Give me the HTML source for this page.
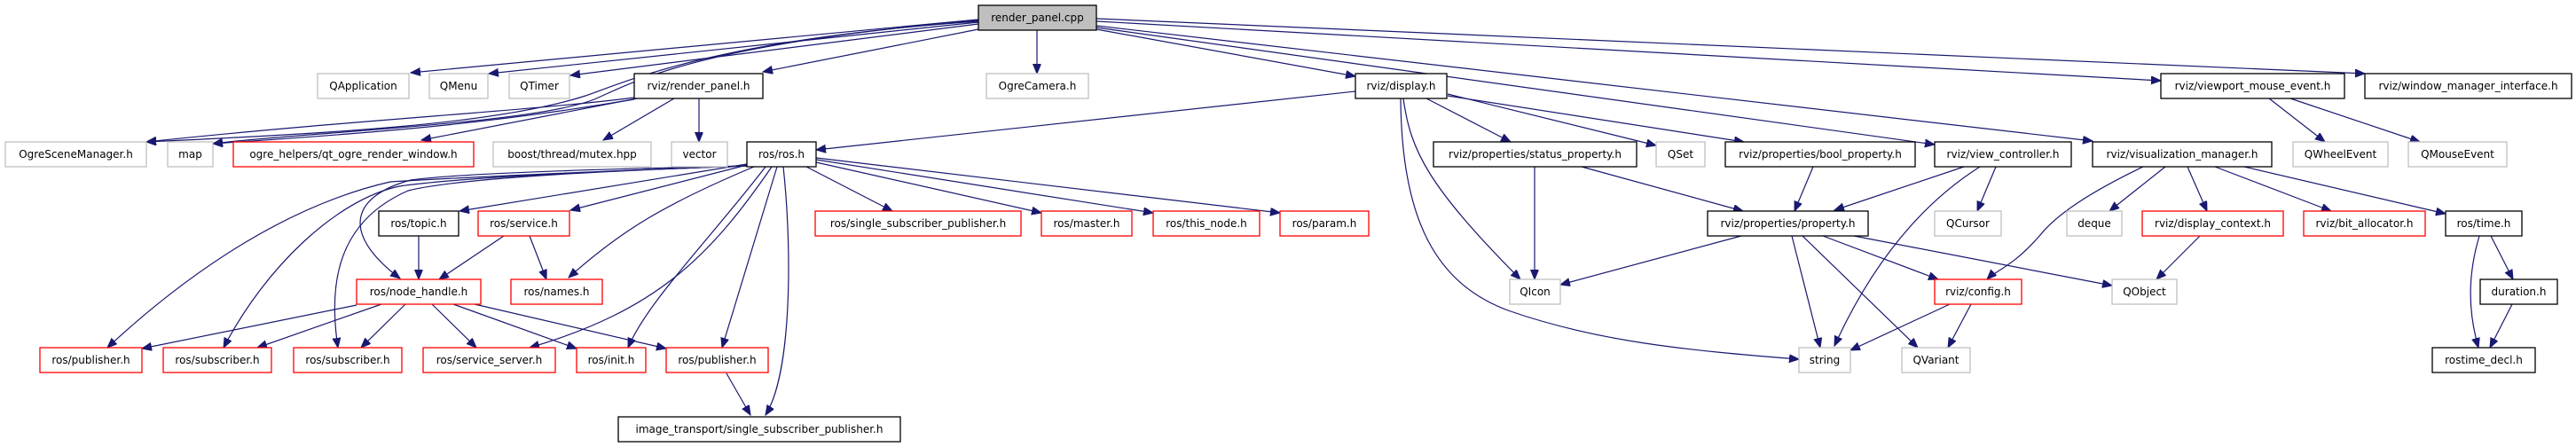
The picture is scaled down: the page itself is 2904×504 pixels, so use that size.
<!DOCTYPE html>
<html><head><meta charset="utf-8"><style>
html,body{margin:0;padding:0;background:#fff;}
svg{display:block;}
text{font-family:"DejaVu Sans","Liberation Sans",sans-serif;font-size:12px;text-anchor:middle;fill:#000;}
.e{fill:none;stroke:#191970;stroke-width:1.2;marker-end:url(#a);}
.k{fill:#fff;stroke:#000;stroke-width:1.3;}
.r{fill:#fff;stroke:#ff0000;stroke-width:1.3;}
.g{fill:#fff;stroke:#bfbfbf;stroke-width:1.3;}
</style></head><body>
<svg width="2904" height="504" viewBox="0 0 2904 504" xmlns="http://www.w3.org/2000/svg">
<defs><marker id="a" markerUnits="userSpaceOnUse" markerWidth="12" markerHeight="10" refX="11" refY="4.5" orient="auto"><path d="M0,0 L11,4.5 L0,9 z" fill="#191970" stroke="#191970"/></marker></defs>

<!-- edges from render_panel.cpp -->
<path class="e" d="M1103,22 L463,82"/>
<path class="e" d="M1103,25 L551,83"/>
<path class="e" d="M1103,27 L643,85"/>
<path class="e" d="M1103,33 L860,81"/>
<path class="e" d="M1103,24 C800,45 700,95 660,108 C560,140 380,150 165,160"/>
<path class="e" d="M1103,23 C780,50 710,95 670,112 C600,140 330,150 240,162"/>
<path class="e" d="M1169,34 L1169,83"/>
<path class="e" d="M1236,33 L1528,86"/>
<path class="e" d="M1236,31 L2181,163"/>
<path class="e" d="M1236,29 L2359,159"/>
<path class="e" d="M1236,24 L2436,91"/>
<path class="e" d="M1236,21 L2666,83"/>
<!-- render_panel.h -->
<path class="e" d="M715,110 C600,125 400,135 165,160"/>
<path class="e" d="M715,112 C550,140 420,150 240,162"/>
<path class="e" d="M718,111 L475,158"/>
<path class="e" d="M760,111 L680,158"/>
<path class="e" d="M788,111 L788,160"/>
<!-- display.h -->
<path class="e" d="M1528,103 L920,169"/>
<path class="e" d="M1608,111 L1703,160"/>
<path class="e" d="M1632,106 L1867,164"/>
<path class="e" d="M1632,108 L1966,160"/>
<path class="e" d="M1582,111 C1590,170 1610,210 1714,315"/>
<path class="e" d="M1579,111 C1580,250 1620,320 1700,350 C1800,385 1900,395 2028,405"/>
<!-- ros/ros.h -->
<path class="e" d="M909,188 L1006,238"/>
<path class="e" d="M920,183 L1174,240"/>
<path class="e" d="M920,180 L1300,240"/>
<path class="e" d="M920,178 L1443,240"/>
<path class="e" d="M876,188 L814,392"/>
<path class="e" d="M883,188 C893,280 893,420 863,468"/>
<path class="e" d="M863,188 C800,270 730,340 708,392"/>
<path class="e" d="M870,188 C800,290 740,350 597,392"/>
<path class="e" d="M850,188 C750,230 700,260 641,313"/>
<path class="e" d="M842,186 L643,237"/>
<path class="e" d="M842,185 L518,238"/>
<path class="e" d="M842,187 C700,190 520,195 463,203 C400,220 380,260 451,314"/>
<path class="e" d="M842,187 C700,192 520,200 460,215 C380,250 370,320 381,392"/>
<path class="e" d="M842,187 C700,192 520,200 450,210 C380,225 300,300 252,392"/>
<path class="e" d="M842,187 C700,192 520,200 440,205 C330,230 220,300 121,392"/>
<!-- topic / service / node_handle -->
<path class="e" d="M472,266 L472,315"/>
<path class="e" d="M568,266 L495,315"/>
<path class="e" d="M597,266 L616,315"/>
<path class="e" d="M402,344 L160,393"/>
<path class="e" d="M430,343 L290,392"/>
<path class="e" d="M457,343 L407,392"/>
<path class="e" d="M487,343 L537,392"/>
<path class="e" d="M511,343 L650,393"/>
<path class="e" d="M535,343 L751,393"/>
<path class="e" d="M819,421 L846,468"/>
<!-- properties -->
<path class="e" d="M1730,188 L1730,315"/>
<path class="e" d="M1783,188 L1965,238"/>
<path class="e" d="M2044,188 L2023,238"/>
<path class="e" d="M2214,188 L2068,237"/>
<path class="e" d="M2232,188 C2150,240 2100,320 2068,390"/>
<path class="e" d="M2250,188 L2229,238"/>
<path class="e" d="M1963,266 L1759,321"/>
<path class="e" d="M2020,266 L2052,392"/>
<path class="e" d="M2032,266 L2162,392"/>
<path class="e" d="M2055,266 L2185,315"/>
<path class="e" d="M2090,266 L2381,322"/>
<path class="e" d="M2198,343 L2086,395"/>
<path class="e" d="M2222,343 L2196,392"/>
<!-- visualization manager -->
<path class="e" d="M2416,188 C2360,215 2320,240 2300,265 C2270,300 2250,305 2240,315"/>
<path class="e" d="M2441,188 L2378,238"/>
<path class="e" d="M2466,188 L2488,238"/>
<path class="e" d="M2497,188 L2628,238"/>
<path class="e" d="M2530,188 L2757,241"/>
<path class="e" d="M2480,266 L2431,315"/>
<path class="e" d="M2558,111 L2621,160"/>
<path class="e" d="M2582,111 L2728,160"/>
<path class="e" d="M2808,266 L2833,315"/>
<path class="e" d="M2795,266 C2782,310 2782,350 2794,392"/>
<path class="e" d="M2832,343 L2807,392"/>

<!-- nodes -->
<rect x="1103" y="6" width="133" height="28" fill="#bfbfbf" stroke="#000" stroke-width="1.3"/><text x="1169.5" y="24">render_panel.cpp</text>

<rect class="g" x="358" y="83" width="103" height="28"/><text x="409.5" y="101">QApplication</text>
<rect class="g" x="484" y="83" width="66" height="28"/><text x="517" y="101">QMenu</text>
<rect class="g" x="574" y="83" width="68" height="28"/><text x="608" y="101">QTimer</text>
<rect class="k" x="715" y="83" width="145" height="28"/><text x="787.5" y="101">rviz/render_panel.h</text>
<rect class="g" x="1112" y="83" width="115" height="28"/><text x="1169.5" y="101">OgreCamera.h</text>
<rect class="k" x="1528" y="83" width="103" height="28"/><text x="1579.5" y="101">rviz/display.h</text>
<rect class="k" x="2436" y="83" width="207" height="28"/><text x="2539.5" y="101">rviz/viewport_mouse_event.h</text>
<rect class="k" x="2666" y="83" width="233" height="28"/><text x="2782.5" y="101">rviz/window_manager_interface.h</text>

<rect class="g" x="6" y="160" width="159" height="28"/><text x="85.5" y="178">OgreSceneManager.h</text>
<rect class="g" x="189" y="160" width="51" height="28"/><text x="214.5" y="178">map</text>
<rect class="r" x="263" y="160" width="271" height="28"/><text x="398.5" y="178">ogre_helpers/qt_ogre_render_window.h</text>
<rect class="g" x="556" y="160" width="178" height="28"/><text x="645" y="178">boost/thread/mutex.hpp</text>
<rect class="g" x="757" y="160" width="63" height="28"/><text x="788.5" y="178">vector</text>
<rect class="k" x="842" y="160" width="78" height="28"/><text x="881" y="178">ros/ros.h</text>
<rect class="k" x="1616" y="160" width="229" height="28"/><text x="1730.5" y="178">rviz/properties/status_property.h</text>
<rect class="g" x="1867" y="160" width="55" height="28"/><text x="1894.5" y="178">QSet</text>
<rect class="k" x="1945" y="160" width="214" height="28"/><text x="2052" y="178">rviz/properties/bool_property.h</text>
<rect class="k" x="2181" y="160" width="154" height="28"/><text x="2258" y="178">rviz/view_controller.h</text>
<rect class="k" x="2359" y="160" width="202" height="28"/><text x="2460" y="178">rviz/visualization_manager.h</text>
<rect class="g" x="2585" y="160" width="107" height="28"/><text x="2638.5" y="178">QWheelEvent</text>
<rect class="g" x="2715" y="160" width="111" height="28"/><text x="2770.5" y="178">QMouseEvent</text>

<rect class="k" x="427" y="238" width="90" height="28"/><text x="472" y="256">ros/topic.h</text>
<rect class="r" x="539" y="238" width="103" height="28"/><text x="590.5" y="256">ros/service.h</text>
<rect class="r" x="919" y="238" width="232" height="28"/><text x="1035" y="256">ros/single_subscriber_publisher.h</text>
<rect class="r" x="1174" y="238" width="102" height="28"/><text x="1225" y="256">ros/master.h</text>
<rect class="r" x="1300" y="238" width="120" height="28"/><text x="1360" y="256">ros/this_node.h</text>
<rect class="r" x="1443" y="238" width="100" height="28"/><text x="1493" y="256">ros/param.h</text>
<rect class="k" x="1925" y="238" width="181" height="28"/><text x="2015.5" y="256">rviz/properties/property.h</text>
<rect class="g" x="2181" y="238" width="75" height="28"/><text x="2218.5" y="256">QCursor</text>
<rect class="g" x="2330" y="238" width="62" height="28"/><text x="2361" y="256">deque</text>
<rect class="r" x="2415" y="238" width="159" height="28"/><text x="2494.5" y="256">rviz/display_context.h</text>
<rect class="r" x="2597" y="238" width="137" height="28"/><text x="2665.5" y="256">rviz/bit_allocator.h</text>
<rect class="k" x="2757" y="238" width="86" height="28"/><text x="2800" y="256">ros/time.h</text>

<rect class="r" x="402" y="315" width="140" height="28"/><text x="472" y="333">ros/node_handle.h</text>
<rect class="r" x="576" y="315" width="103" height="28"/><text x="627.5" y="333">ros/names.h</text>
<rect class="g" x="1702" y="315" width="57" height="28"/><text x="1730.5" y="333">QIcon</text>
<rect class="r" x="2181" y="315" width="98" height="28"/><text x="2230" y="333">rviz/config.h</text>
<rect class="g" x="2381" y="315" width="73" height="28"/><text x="2417.5" y="333">QObject</text>
<rect class="k" x="2796" y="315" width="87" height="28"/><text x="2839.5" y="333">duration.h</text>

<rect class="r" x="45" y="392" width="115" height="28"/><text x="102.5" y="410">ros/publisher.h</text>
<rect class="r" x="184" y="392" width="122" height="28"/><text x="245" y="410">ros/subscriber.h</text>
<rect class="r" x="331" y="392" width="122" height="28"/><text x="392" y="410">ros/subscriber.h</text>
<rect class="r" x="477" y="392" width="149" height="28"/><text x="551.5" y="410">ros/service_server.h</text>
<rect class="r" x="650" y="392" width="78" height="28"/><text x="689" y="410">ros/init.h</text>
<rect class="r" x="751" y="392" width="115" height="28"/><text x="808.5" y="410">ros/publisher.h</text>
<rect class="g" x="2028" y="392" width="58" height="28"/><text x="2057" y="410">string</text>
<rect class="g" x="2144" y="392" width="77" height="28"/><text x="2182.5" y="410">QVariant</text>
<rect class="k" x="2742" y="392" width="116" height="28"/><text x="2800" y="410">rostime_decl.h</text>

<rect class="k" x="697" y="470" width="318" height="28"/><text x="856" y="488">image_transport/single_subscriber_publisher.h</text>
</svg>
</body></html>
